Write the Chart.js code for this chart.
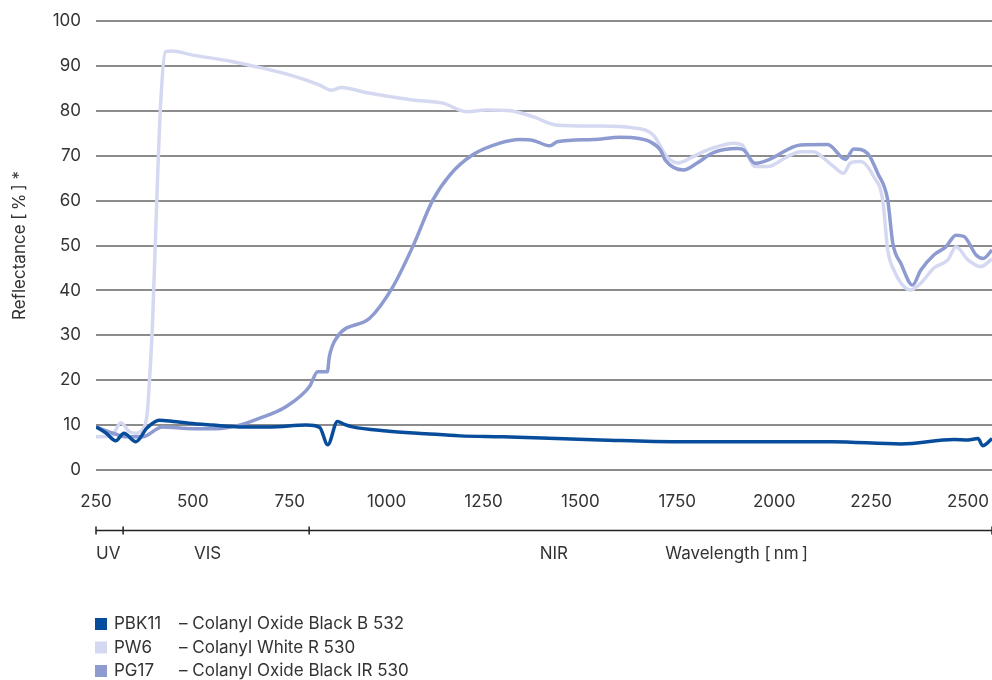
<!DOCTYPE html>
<html>
<head>
<meta charset="utf-8">
<script src="https://cdn.jsdelivr.net/npm/chart.js@4.4.1/dist/chart.umd.min.js"></script>
<style>
    html, body { margin: 0; padding: 0; background: #fff; }
    #wrap { position: relative; width: 992px; height: 680px; }
</style>
</head>
<body>
<div id="wrap"><canvas id="reflectanceChart" width="992" height="680"></canvas></div>
<script>
// wavelength (nm) and reflectance (%)
const pbkNm  = [250, 275, 301, 322, 353, 382, 413, 450, 490, 550, 620, 700, 792, 827, 848, 873, 890, 912, 1000, 1100, 1189, 1300, 1400, 1551, 1750, 2000, 2150, 2327, 2464, 2500, 2526, 2538, 2562];
const pbkVal = [9.6, 8.3, 6.5, 8.2, 6.3, 9.4, 11.1, 10.8, 10.4, 10.0, 9.6, 9.6, 10.0, 9.5, 5.6, 10.8, 10.2, 9.6, 8.7, 8.1, 7.6, 7.4, 7.1, 6.7, 6.3, 6.3, 6.3, 5.8, 6.8, 6.7, 7.0, 5.4, 7.0];

const pwNm  = [250, 290, 314, 335, 353, 370, 382, 387, 396, 408, 417, 430, 445, 500, 600, 680, 749, 800, 827, 857, 883, 950, 1067, 1145, 1207, 1258, 1320, 1377, 1440, 1543, 1636, 1688, 1723, 1752, 1800, 1835, 1895, 1917, 1951, 1983, 2034, 2068, 2101, 2138, 2153, 2179, 2197, 2223, 2257, 2280, 2293, 2309, 2352, 2378, 2412, 2448, 2469, 2500, 2533, 2562];
const pwVal = [7.4, 7.6, 10.5, 8.6, 8.2, 9.0, 12.5, 18.5, 33, 63, 82, 93.2, 93.3, 92.4, 91, 89.5, 88, 86.6, 85.7, 84.6, 85.2, 84, 82.4, 81.7, 79.8, 80.2, 80, 78.7, 76.8, 76.6, 76.2, 74.6, 69.8, 68.4, 70.2, 71.5, 72.8, 72.4, 67.6, 67.6, 69.8, 70.9, 70.9, 68.7, 67.6, 66.1, 68.4, 68.7, 65.3, 60.1, 49, 44.5, 40.1, 41.6, 45, 46.8, 49.7, 46.8, 45.3, 47];

const pgNm  = [250, 290, 330, 370, 421, 500, 560, 620, 671, 740, 801, 822, 847, 852, 873, 956, 1016, 1067, 1119, 1163, 1222, 1292, 1344, 1378, 1421, 1440, 1533, 1602, 1636, 1680, 1706, 1719, 1766, 1800, 1843, 1905, 1921, 1951, 1983, 2068, 2138, 2184, 2205, 2241, 2267, 2293, 2306, 2327, 2357, 2378, 2412, 2443, 2469, 2490, 2521, 2539, 2562];
const pgVal = [9.6, 8.3, 7.4, 7.4, 9.6, 9.2, 9.2, 10, 11.5, 14.1, 18.6, 21.9, 21.9, 25.2, 29.7, 33.8, 40.8, 49.7, 60.1, 65.7, 70.2, 72.8, 73.6, 73.4, 72.2, 73.1, 73.6, 74.1, 74, 73.1, 71.3, 69, 66.8, 68.3, 70.7, 71.6, 71.3, 68.3, 69, 72.4, 72.5, 69.2, 71.5, 70.5, 66.1, 60.1, 50.5, 46, 41.2, 44.5, 47.9, 49.7, 52.3, 52, 47.9, 47.1, 49];

const xTicks = [250, 500, 750, 1000, 1250, 1500, 1750, 2000, 2250, 2500];

const seriesCodes = ['PBK11', 'PW6', 'PG17'];
const seriesNames = ['– Colanyl Oxide Black B 532', '– Colanyl White R 530', '– Colanyl Oxide Black IR 530'];
const seriesColors = ['#084c9c', '#d5d8f1', '#8e9bd1'];

// spectral bands below the axis
const bandEdges = [250, 320, 800, 2562];
const bandLabels = ['UV', 'VIS', 'NIR', 'Wavelength [\u2009nm\u2009]'];
const bandLabelAt = [250, 503, 1395, 1719];

const FONT = 'Inter, "Noto Sans", sans-serif';
const TEXT = '#333';

function points(xs, ys) {
    return xs.map((x, i) => ({ x: x, y: ys[i] }));
}

const bandsAndLegend = {
    id: 'bandsAndLegend',
    afterDraw(chart) {
        const c = chart.ctx;
        const xs = chart.scales.x;
        const lineY = 530.5;
        c.save();

        c.strokeStyle = '#222';
        c.lineWidth = 1.5;
        c.beginPath();
        c.moveTo(xs.getPixelForValue(bandEdges[0]), lineY);
        c.lineTo(xs.getPixelForValue(bandEdges[bandEdges.length - 1]), lineY);
        bandEdges.forEach(v => {
            const px = xs.getPixelForValue(v);
            c.moveTo(px, lineY - 4);
            c.lineTo(px, lineY + 4);
        });
        c.stroke();

        c.fillStyle = TEXT;
        c.font = '17px ' + FONT;
        c.textBaseline = 'middle';
        c.textAlign = 'left';
        bandLabels.forEach((t, i) => c.fillText(t, xs.getPixelForValue(bandLabelAt[i]), 554));

        // legend
        const rows = [624, 647.5, 671];
        seriesCodes.forEach((code, i) => {
            c.fillStyle = seriesColors[i];
            c.fillRect(95, rows[i] - 6, 12, 12);
            c.fillStyle = TEXT;
            c.fillText(code, 114, rows[i]);
            c.fillText(seriesNames[i], 179, rows[i]);
        });
        c.restore();
    }
};

const ctx = document.getElementById('reflectanceChart').getContext('2d');

new Chart(ctx, {
    type: 'line',
    data: {
        datasets: [
            { label: 'PBK11', data: points(pbkNm, pbkVal), borderColor: seriesColors[0] },
            { label: 'PG17', data: points(pgNm, pgVal), borderColor: seriesColors[2] },
            { label: 'PW6', data: points(pwNm, pwVal), borderColor: seriesColors[1] }
        ]
    },
    options: {
        responsive: false,
        animation: false,
        layout: { padding: { top: 21, right: 0, bottom: 170, left: 0 } },
        elements: {
            line: { borderWidth: 3.5, cubicInterpolationMode: 'monotone', fill: false },
            point: { radius: 0 }
        },
        plugins: { legend: { display: false }, tooltip: { enabled: false } },
        scales: {
            x: {
                type: 'linear',
                min: 250,
                max: 2562,
                afterBuildTicks(scale) { scale.ticks = xTicks.map(v => ({ value: v })); },
                afterFit(scale) { scale.height = 40; scale.paddingRight = 0; },
                grid: { display: false },
                border: { display: false },
                ticks: {
                    autoSkip: false,
                    padding: 14,
                    color: TEXT,
                    font: { family: FONT, size: 17 },
                    maxRotation: 0,
                    minRotation: 0,
                    callback: v => String(v)
                }
            },
            y: {
                min: 0,
                max: 100,
                afterFit(scale) { scale.width = 96; scale.paddingTop = 0; scale.paddingBottom = 0; },
                grid: { color: '#8c8c8c', lineWidth: 2, drawTicks: false },
                border: { display: false },
                ticks: {
                    stepSize: 10,
                    padding: 15,
                    color: TEXT,
                    font: { family: FONT, size: 17 }
                },
                title: {
                    display: true,
                    text: 'Reflectance [\u2009%\u2009] *',
                    color: TEXT,
                    font: { family: FONT, size: 17 },
                    padding: { top: 10, bottom: 0 }
                }
            }
        }
    },
    plugins: [bandsAndLegend]
});
</script>
</body>
</html>
